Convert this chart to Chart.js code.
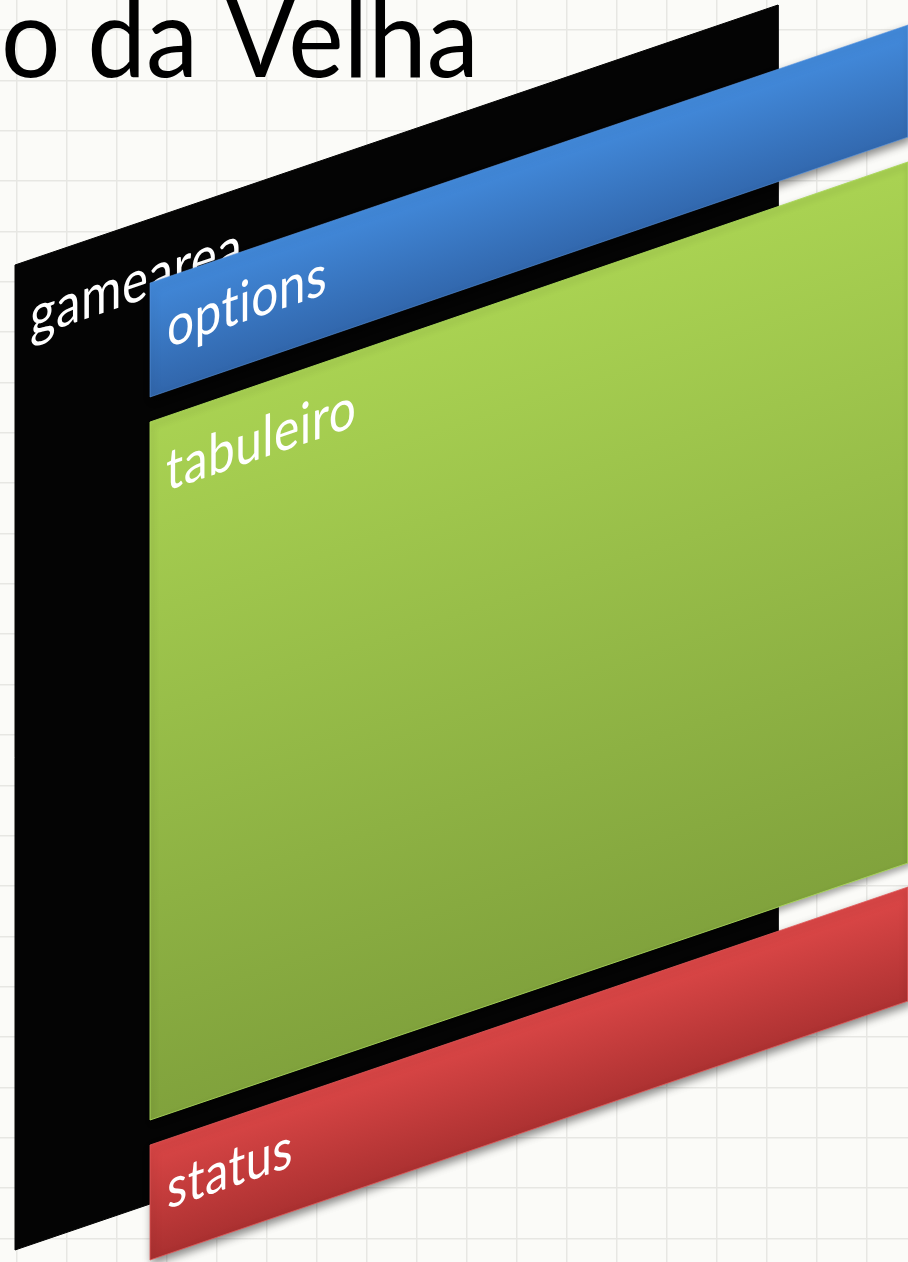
<!DOCTYPE html>
<html>
<head>
<meta charset="utf-8">
<script src="https://cdn.jsdelivr.net/npm/chart.js@4/dist/chart.umd.min.js"></script>
<style>
  html, body { margin: 0; padding: 0; background: #fbfbf8; }
  #wrap { width: 908px; height: 1262px; }
</style>
</head>
<body>
<div id="wrap"><canvas id="diagrama"></canvas></div>
<script>
// painéis do layout (cantos em px da imagem: sup-esq, sup-dir, inf-dir, inf-esq)
const painelNomes = ['gamearea', 'options', 'tabuleiro', 'status'];
const gameareaX = [15, 778, 778, 15];
const gameareaY = [265, 5, 990, 1250];
const optionsX = [150, 908, 908, 150];
const optionsY = [283, 25, 137, 397];
const tabuleiroX = [150, 908, 908, 150];
const tabuleiroY = [422, 162, 863, 1120];
const statusX = [150, 908, 908, 150];
const statusY = [1145, 887, 1001, 1260];
const titulo = 'o da Velha';

const INCL = -0.342;

// onde cada rótulo começa (linha de base) e a largura que ocupa
const rotulos = [
  { x: 30, y: 338, w: 212 },
  { x: 167, y: 348, w: 160 },
  { x: 166, y: 491, w: 190 },
  { x: 167, y: 1209, w: 126 }
];

function poligono(xs, ys) {
  const pts = xs.map((x, i) => ({ x: x, y: ys[i] }));
  pts.push(pts[0]);
  return pts;
}

function gradiente(cores) {
  return (ctx) => {
    const chart = ctx.chart;
    const ds = chart.data.datasets[ctx.datasetIndex];
    if (!chart.chartArea) return cores[0];
    const sx = chart.scales.x, sy = chart.scales.y;
    const p0 = ds.data[0], p3 = ds.data[3];
    const x0 = sx.getPixelForValue(p0.x), y0 = sy.getPixelForValue(p0.y);
    const y1 = sy.getPixelForValue(p3.y);
    const h = y1 - y0;
    const g = chart.ctx.createLinearGradient(x0, y0, x0 + h * 0.33, y0 + h);
    g.addColorStop(0, cores[0]);
    g.addColorStop(1, cores[1]);
    return g;
  };
}

const sombras = [null,
  { c: 'rgba(0,0,0,0.45)', b: 8, x: 2, y: 4 },
  { c: 'rgba(0,0,0,0.35)', b: 6, x: 2, y: 3 },
  { c: 'rgba(0,0,0,0.45)', b: 8, x: 2, y: 4 }];

function aplicaSombra(ctx, s) {
  if (!s) { ctx.shadowColor = 'rgba(0,0,0,0)'; ctx.shadowBlur = 0; ctx.shadowOffsetX = 0; ctx.shadowOffsetY = 0; return; }
  ctx.shadowColor = s.c; ctx.shadowBlur = s.b; ctx.shadowOffsetX = s.x; ctx.shadowOffsetY = s.y;
}

function desenhaRotulo(chart, i) {
  const c = chart.ctx;
  const sx = chart.scales.x, sy = chart.scales.y;
  const r = rotulos[i], nome = painelNomes[i];
  c.save();
  aplicaSombra(c, null);
  c.letterSpacing = '0.5px';
  c.font = '50px Lato';
  const s = 50 * r.w / c.measureText(nome).width;
  c.font = s.toFixed(1) + 'px Lato';
  c.setTransform(1, INCL, 0, 1.2, sx.getPixelForValue(r.x), sy.getPixelForValue(r.y));
  c.fillStyle = '#ffffff';
  c.textBaseline = 'alphabetic';
  c.fillText(nome, 0, 0);
  c.restore();
}

const fundo = {
  id: 'fundo',
  beforeDraw(chart) {
    const c = chart.ctx;
    c.save();
    c.fillStyle = '#fbfbf8';
    c.fillRect(0, 0, chart.width, chart.height);
    c.restore();
  },
  beforeDatasetsDraw(chart) { aplicaSombra(chart.ctx, sombras[0]); },
  afterDatasetDraw(chart, args) {
    // o rótulo do gamearea fica por baixo dos outros painéis
    if (args.index === 0) desenhaRotulo(chart, 0);
    aplicaSombra(chart.ctx, sombras[args.index + 1]);
  },
  afterDatasetsDraw(chart) {
    const c = chart.ctx;
    aplicaSombra(c, null);
    for (let i = 1; i < painelNomes.length; i++) desenhaRotulo(chart, i);

    // título (cortado à esquerda)
    c.save();
    c.font = '100px Lato';
    const ts = 100 * 478 / c.measureText(titulo).width;
    c.font = ts.toFixed(1) + 'px Lato';
    c.fillStyle = '#000000';
    c.textBaseline = 'alphabetic';
    c.setTransform(1, 0, 0, 1.06, 1, 77);
    c.fillText(titulo, 0, 0);
    c.restore();
  }
};

const gradeX = [];
for (let v = 17; v < 908; v += 50) gradeX.push(v);
const gradeY = [];
for (let v = 30; v < 1262; v += 50.35) gradeY.push(v);

new Chart(document.getElementById('diagrama'), {
  type: 'scatter',
  data: {
    datasets: [
      {
        label: painelNomes[0],
        data: poligono(gameareaX, gameareaY),
        showLine: true, fill: 'shape', order: 4,
        backgroundColor: '#040404', borderColor: '#040404', borderWidth: 1,
        pointRadius: 0, tension: 0
      },
      {
        label: painelNomes[1],
        data: poligono(optionsX, optionsY),
        showLine: true, fill: 'shape', order: 3,
        backgroundColor: gradiente(['#4289da', '#2f62a6']),
        borderColor: 'rgba(90,150,225,0.6)', borderWidth: 1,
        pointRadius: 0, tension: 0
      },
      {
        label: painelNomes[2],
        data: poligono(tabuleiroX, tabuleiroY),
        showLine: true, fill: 'shape', order: 2,
        backgroundColor: gradiente(['#a9d252', '#7c9d3a']),
        borderColor: 'rgba(170,215,90,0.9)', borderWidth: 1,
        pointRadius: 0, tension: 0
      },
      {
        label: painelNomes[3],
        data: poligono(statusX, statusY),
        showLine: true, fill: 'shape', order: 1,
        backgroundColor: gradiente(['#da4646', '#a52e2e']),
        borderColor: 'rgba(225,90,90,0.8)', borderWidth: 1,
        pointRadius: 0, tension: 0
      }
    ]
  },
  options: {
    responsive: true,
    maintainAspectRatio: false,
    animation: false,
    layout: { padding: 0 },
    plugins: { legend: { display: false }, tooltip: { enabled: false } },
    scales: {
      x: {
        type: 'linear', min: 0, max: 908,
        afterBuildTicks: (s) => { s.ticks = gradeX.map(v => ({ value: v })); },
        ticks: { display: false },
        grid: { color: '#e7e7e3', lineWidth: 1.5, drawTicks: false },
        border: { display: false }
      },
      y: {
        type: 'linear', min: 0, max: 1262, reverse: true,
        afterBuildTicks: (s) => { s.ticks = gradeY.map(v => ({ value: v })); },
        ticks: { display: false },
        grid: { color: '#e7e7e3', lineWidth: 1.5, drawTicks: false },
        border: { display: false }
      }
    }
  },
  plugins: [fundo]
});
</script>
</body>
</html>
